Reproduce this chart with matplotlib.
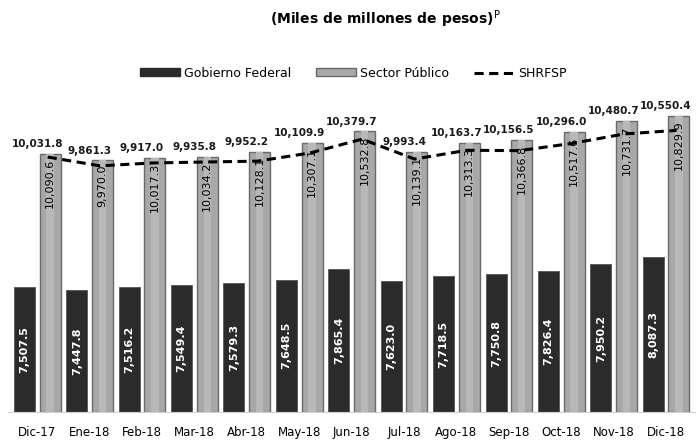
import numpy as np
import matplotlib.pyplot as plt
from matplotlib.patches import Patch
from matplotlib.lines import Line2D

meses = ['Dic-17', 'Ene-18', 'Feb-18', 'Mar-18', 'Abr-18', 'May-18', 'Jun-18',
         'Jul-18', 'Ago-18', 'Sep-18', 'Oct-18', 'Nov-18', 'Dic-18']
gobierno = [7507.5, 7447.8, 7516.2, 7549.4, 7579.3, 7648.5, 7865.4,
            7623.0, 7718.5, 7750.8, 7826.4, 7950.2, 8087.3]
sector = [10090.6, 9970.0, 10017.3, 10034.2, 10128.1, 10307.1, 10532.8,
          10139.1, 10313.3, 10366.8, 10517.6, 10731.7, 10829.9]
shrfsp = [10031.8, 9861.3, 9917.0, 9935.8, 9952.2, 10109.9, 10379.7,
          9993.4, 10163.7, 10156.5, 10296.0, 10480.7, 10550.4]

base = 5080
fig = plt.figure(figsize=(6.97, 4.41), dpi=100)
ax = fig.add_axes([0.012, 0.066, 0.985, 0.72])

x = np.arange(len(meses))
w = 0.40
ax.bar(x - 0.245, np.array(gobierno) - base, w, bottom=base,
       color='#2b2b2b', edgecolor='#555555', linewidth=0.6)
ax.bar(x + 0.245, np.array(sector) - base, w, bottom=base,
       color='#a8a8a8', edgecolor='#6a6a6a', linewidth=1.0)
# brillo central en las barras del sector publico
ax.bar(x + 0.245, np.array(sector) - base, w * 0.35, bottom=base,
       color='#b8b8b8', linewidth=0)
ax.plot(x + 0.2, shrfsp, color='black', linestyle=(0, (3, 1.8)), linewidth=2.2)

for i in range(len(meses)):
    ax.text(x[i] - 0.245, (gobierno[i] + base) / 2, f'{gobierno[i]:,.1f}',
            rotation=90, ha='center', va='center', color='white',
            fontsize=8, fontweight='bold')
    ax.text(x[i] + 0.245, sector[i] - 90, f'{sector[i]:,.1f}',
            rotation=90, ha='center', va='top', color='black', fontsize=8)
    ax.text(x[i], sector[i] + 90, f'{shrfsp[i]:,.1f}',
            ha='center', va='bottom', color='#1a1a1a', fontsize=7.5,
            fontweight='bold')

ax.set_xlim(-0.55, len(meses) - 0.45)
ax.set_ylim(base, 11250)
ax.set_xticks(x)
ax.set_xticklabels(meses, fontsize=8.5)
ax.tick_params(axis='x', length=0, pad=10)
ax.set_yticks([])
for s in ['top', 'right', 'left']:
    ax.spines[s].set_visible(False)
ax.spines['bottom'].set_color('#d0d0d0')

fig.text(0.553, 0.957, r'(Miles de millones de pesos)$^{\mathrm{P}}$', ha='center',
         va='center', fontsize=10, fontweight='bold')

handles = [Patch(color='#2b2b2b'), Patch(facecolor='#a8a8a8', edgecolor='#6a6a6a'),
           Line2D([0], [0], color='black', linestyle=(0, (3, 1.8)), linewidth=2.2)]
fig.legend(handles, ['Gobierno Federal', 'Sector Público', 'SHRFSP'],
           loc='center', bbox_to_anchor=(0.507, 0.834), ncol=3, frameon=False,
           fontsize=9, handlelength=3.2, handleheight=0.6, columnspacing=2.0,
           handletextpad=0.3)

fig.savefig('out.png', dpi=100)
